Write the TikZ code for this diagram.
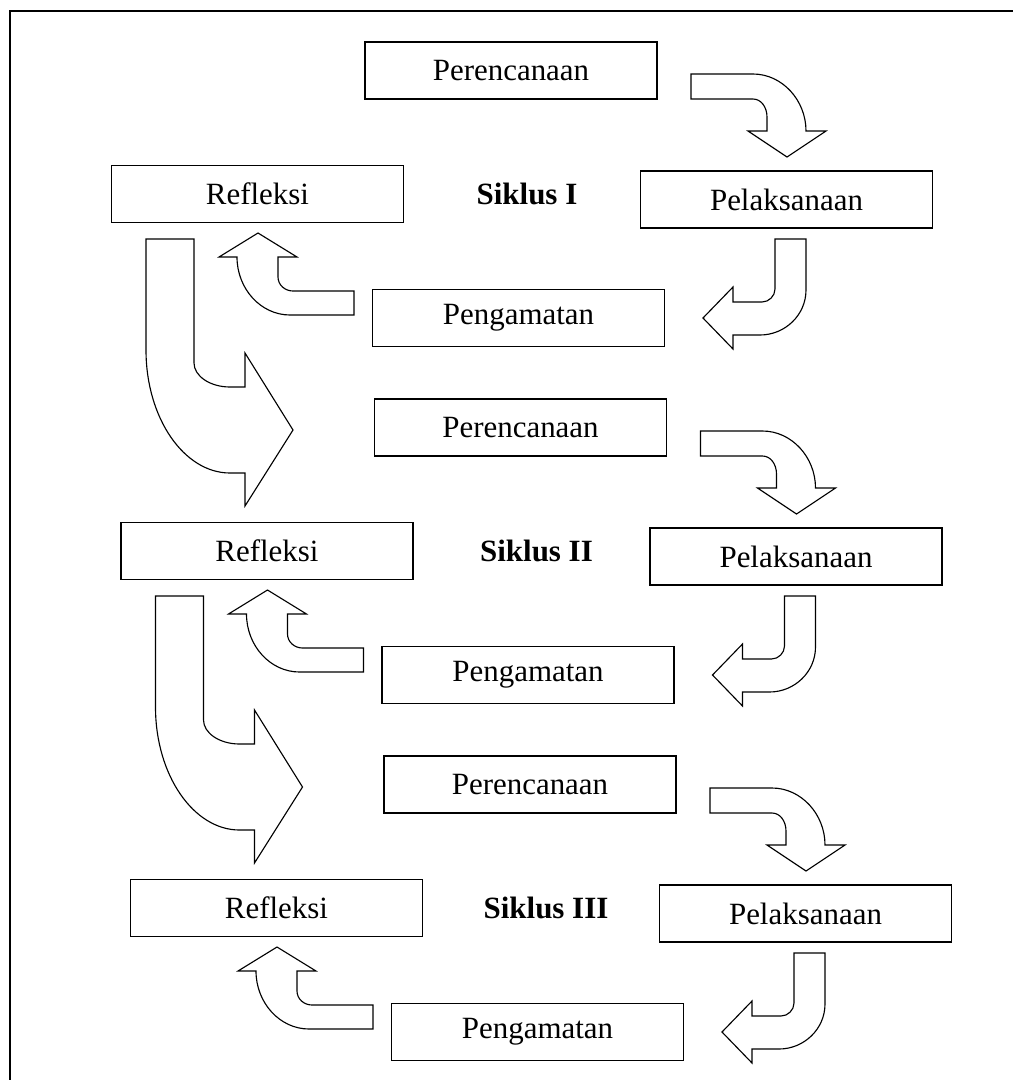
\documentclass[tikz,border=0pt]{standalone}
\usepackage{fontspec}
\setmainfont{Liberation Serif}
\begin{document}
\begin{tikzpicture}[x=0.025cm,y=-0.025cm,font=\fontsize{22}{26}\selectfont,
        tahap/.style={draw,line width=0.9pt,minimum width=7.3cm,minimum height=1.42cm,inner sep=0pt},
        panah/.style={draw,line width=0.8pt,line join=miter}]
    \useasboundingbox (0,0) rectangle (1013,1080);
    \draw[line width=1.2pt] (10,1080)--(10,11)--(1013,11);
    %===========================================
    \foreach \i/\s in {0/I,1/II,2/III}{
        \begin{scope}[shift={(9.5*\i,357*\i)}]
            \node[tahap] (per\i) at (511,70.5) {Perencanaan};
            \node[tahap] (pel\i) at (786.5,199.5) {Pelaksanaan};
            \node[tahap] (pen\i) at (518.5,318) {Pengamatan};
            \node[tahap] (ref\i) at (257.5,194) {Refleksi};
            \node[font=\fontsize{22}{26}\selectfont\bfseries] (sik\i) at (527,194) {Siklus \s};
            % perencanaan -> pelaksanaan
            \draw[panah] (691,74)--(753,74) .. controls (782,74) and (806,100) .. (806,131)
                --(826,131)--(787,157)--(748,131)--(767,131)--(767,117)
                .. controls (767,107) and (761,99) .. (753,99)--(691,99)--cycle;
            % pelaksanaan -> pengamatan
            \draw[panah] (775,239)--(806,239)--(806,290) .. controls (806,315) and (785,335) .. (760,335)
                --(733,335)--(733,349)--(703,318)--(733,287)--(733,302)--(762,302)
                .. controls (769,302) and (775,296) .. (775,289)--cycle;
            % pengamatan -> refleksi
            \draw[panah] (354,291)--(293,291) .. controls (285,291) and (278,285) .. (278,277)
                --(278,257)--(297,257)--(258,233)--(219,257)--(237,257)
                .. controls (237,289) and (261,315) .. (290,315)--(354,315)--cycle;
            % refleksi -> perencanaan siklus berikutnya
            \ifnum\i<2
                \draw[panah] (146,239)--(194,239)--(194,363) .. controls (194,376) and (210,387) .. (230,387)
                    --(245,387)--(245,353)--(293,430)--(245,506)--(245,473)--(230,473)
                    .. controls (184,473) and (146,418) .. (146,350)--cycle;
            \fi
        \end{scope}
    }
\end{tikzpicture}
\end{document}
